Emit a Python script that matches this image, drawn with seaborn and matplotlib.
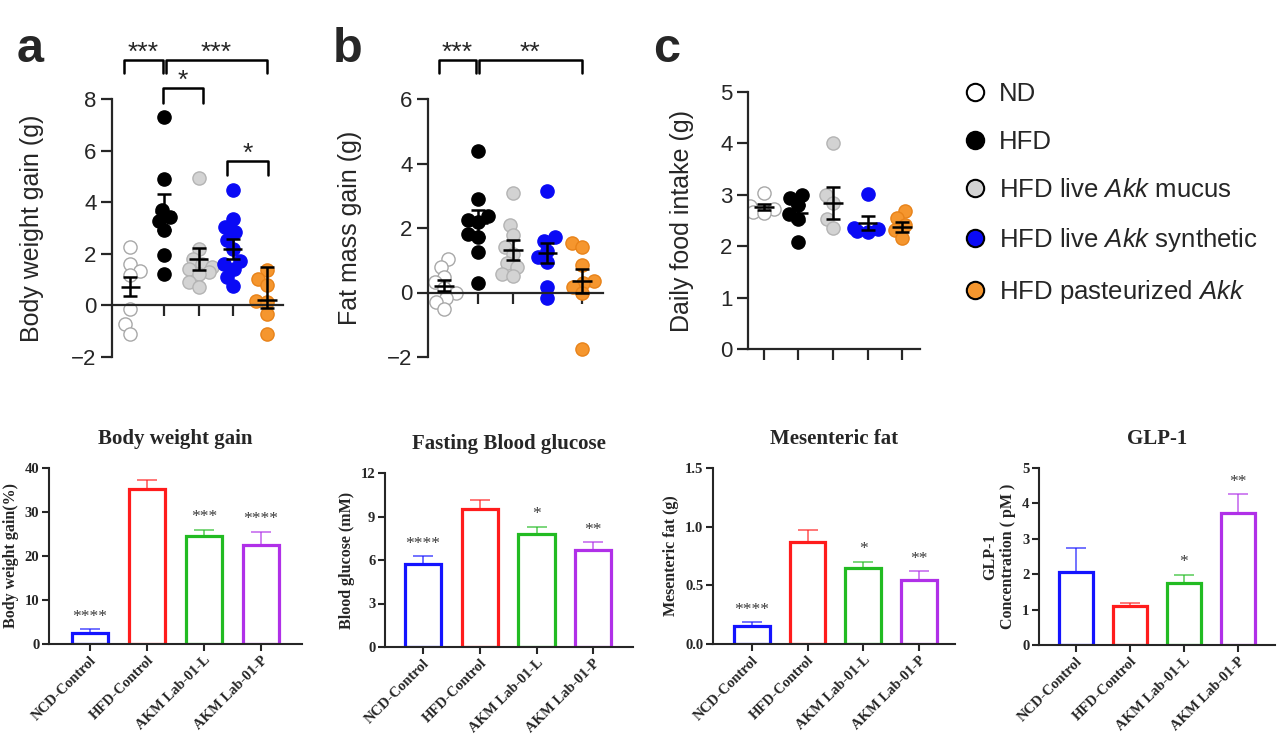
import numpy as np
import pandas as pd
import seaborn as sns
import matplotlib.pyplot as plt
from matplotlib.lines import Line2D

sns.set_theme(style='ticks')
plt.rcParams['font.family'] = ['Liberation Sans', 'DejaVu Sans']
plt.rcParams['mathtext.fontset'] = 'custom'
plt.rcParams['mathtext.rm'] = 'Liberation Sans'
plt.rcParams['mathtext.it'] = 'Liberation Sans:italic'

# ---------------- top row data (dot plots) ----------------
groups = ['ND', 'HFD', 'HFD live Akk mucus', 'HFD live Akk synthetic', 'HFD pasteurized Akk']
legend_labels = ['ND', 'HFD', 'HFD live $\\mathit{Akk}$ mucus',
                 'HFD live $\\mathit{Akk}$ synthetic', 'HFD pasteurized $\\mathit{Akk}$']
face_colors = ['white', 'black', '#d3d3d3', '#0a0af5', '#f5962e']
edge_colors = ['#a8a8a8', 'black', '#b4b4b4', '#0a0af5', '#e8831a']

# body weight gain (g)
bw_nd = [2.26, 1.61, 1.32, 1.19, -0.14, -0.73, -1.09]
bw_hfd = [7.29, 4.89, 3.71, 3.42, 3.29, 2.93, 1.97, 1.22]
bw_mucus = [4.92, 2.19, 1.80, 1.60, 1.48, 1.40, 1.30, 1.22, 0.90, 0.73]
bw_synth = [4.46, 3.36, 3.03, 2.84, 2.55, 2.20, 1.74, 1.60, 1.41, 1.09, 0.74]
bw_past = [1.37, 1.02, 0.79, 0.18, 0.12, -0.34, -1.12]
bw_mean = [0.73, 3.62, 1.80, 2.19, 0.20]
bw_lo = [0.36, 2.93, 1.37, 1.81, -0.10]
bw_hi = [1.10, 4.31, 2.23, 2.57, 1.50]

# fat mass gain (g)
fm_nd = [1.05, 0.80, 0.49, 0.33, 0.15, -0.03, -0.17, -0.29, -0.50]
fm_hfd = [4.39, 2.90, 2.37, 2.24, 2.20, 1.80, 1.73, 1.26, 0.31]
fm_mucus = [3.07, 2.09, 1.78, 1.42, 1.20, 0.90, 0.80, 0.57, 0.50]
fm_synth = [3.14, 1.71, 1.60, 1.29, 1.10, 0.95, 0.16, -0.17]
fm_past = [1.52, 1.42, 0.85, 0.35, 0.30, 0.16, -0.03, -1.76]
fm_mean = [0.21, 2.14, 1.31, 1.23, 0.36]
fm_lo = [0.04, 1.73, 1.00, 0.93, -0.02]
fm_hi = [0.38, 2.55, 1.62, 1.53, 0.74]

# daily food intake (g)
fi_nd = [3.03, 2.78, 2.72, 2.67, 2.65]
fi_hfd = [3.00, 2.94, 2.81, 2.63, 2.52, 2.08]
fi_mucus = [4.01, 3.00, 2.84, 2.52, 2.35]
fi_synth = [3.02, 2.35, 2.30, 2.28, 2.33]
fi_past = [2.69, 2.55, 2.41, 2.32, 2.16]
fi_mean = [2.76, 2.65, 2.84, 2.45, 2.37]
fi_lo = [2.70, 2.49, 2.53, 2.31, 2.27]
fi_hi = [2.82, 2.81, 3.15, 2.59, 2.47]

# ---------------- bottom row data (bar charts) ----------------
bar_groups = ['NCD-Control', 'HFD-Control', 'AKM Lab-01-L', 'AKM Lab-01-P']
bar_colors = ['#1414ff', '#ff1c1c', '#22bb22', '#b030e8']

bwp_mean = [2.5, 35.3, 24.6, 22.5]
bwp_err = [0.8, 1.9, 1.3, 3.0]
bwp_stars = ['****', '', '***', '****']

glu_mean = [5.7, 9.5, 7.8, 6.7]
glu_err = [0.55, 0.65, 0.5, 0.55]
glu_stars = ['****', '', '*', '**']

mes_mean = [0.155, 0.87, 0.645, 0.545]
mes_err = [0.03, 0.105, 0.055, 0.075]
mes_stars = ['****', '', '*', '**']

glp_mean = [2.05, 1.1, 1.75, 3.73]
glp_err = [0.68, 0.1, 0.23, 0.53]
glp_stars = ['', '', '*', '**']

W, H = 1280, 738
fig = plt.figure(figsize=(W / 100, H / 100), dpi=100)

SWARM_SIZE = 6.5   # spacing used for the swarm layout (points overlap a bit, like the original)
DOT_SIZE = 9.5     # drawn marker size


def px_axes(x0, x1, ytop, ybot):
    return fig.add_axes([x0 / W, 1 - ybot / H, (x1 - x0) / W, (ybot - ytop) / H])


def dot_panel(ax, series, mean, lo, hi, ylim, yticks, ylabel, xlim, zero_axis, lpad):
    df = pd.DataFrame({'group': np.repeat(groups, [len(s) for s in series]),
                       'value': np.concatenate(series)})
    for g, fc, ec in zip(groups, face_colors, edge_colors):
        sns.swarmplot(data=df[df['group'] == g], x='group', y='value', order=groups,
                      color=fc, edgecolor=ec, linewidth=1.0, size=SWARM_SIZE, ax=ax, zorder=2)
    xs = np.arange(len(groups))
    mean = np.array(mean)
    ax.hlines(mean, xs - 0.28, xs + 0.28, color='black', lw=1.8, zorder=3)
    ax.errorbar(xs, mean, yerr=[mean - np.array(lo), np.array(hi) - mean], fmt='none',
                ecolor='black', elinewidth=1.8, capsize=5, capthick=1.8, zorder=3)
    ax.set_xlim(*xlim)
    ax.set_ylim(*ylim)
    ax.set_yticks(yticks)
    ax.set_xticks(xs)
    ax.set_xticklabels([])
    ax.set_xlabel('')
    ax.set_ylabel(ylabel, fontsize=18, labelpad=lpad)
    for side in ['top', 'right']:
        ax.spines[side].set_visible(False)
    for side in ['left', 'bottom']:
        ax.spines[side].set_linewidth(1.6)
    if zero_axis:
        ax.spines['bottom'].set_position(('data', 0))
    ax.tick_params(axis='both', direction='out', length=8, width=1.6, labelsize=16, pad=3)
    ax.patch.set_alpha(0)


def bracket(ax, x1, x2, y, leg, text):
    ax.plot([x1, x1, x2, x2], [y - leg, y, y, y - leg], color='black', lw=1.8, clip_on=False)
    ax.text((x1 + x2) / 2, y, text, ha='center', va='baseline', fontsize=19, clip_on=False)


# panel a
ax_a = px_axes(112, 283, 99, 357)
dot_panel(ax_a, [bw_nd, bw_hfd, bw_mucus, bw_synth, bw_past], bw_mean, bw_lo, bw_hi,
          (-2, 8), [-2, 0, 2, 4, 6, 8], 'Body weight gain (g)', (-0.53, 4.47), True, 20)
bracket(ax_a, -0.18, 0.96, 9.52, 0.52, '***')
bracket(ax_a, 1.04, 4.0, 9.52, 0.52, '***')
bracket(ax_a, 0.96, 2.13, 8.43, 0.59, '*')
bracket(ax_a, 2.83, 4.03, 5.60, 0.54, '*')

# panel b
ax_b = px_axes(428, 603, 99, 357)
dot_panel(ax_b, [fm_nd, fm_hfd, fm_mucus, fm_synth, fm_past], fm_mean, fm_lo, fm_hi,
          (-2, 6), [-2, 0, 2, 4, 6], 'Fat mass gain (g)', (-0.46, 4.61), True, 18)
bracket(ax_b, -0.14, 0.93, 7.21, 0.40, '***')
bracket(ax_b, 1.01, 4.0, 7.21, 0.40, '**')

# panel c
ax_c = px_axes(748, 920, 92, 349)
dot_panel(ax_c, [fi_nd, fi_hfd, fi_mucus, fi_synth, fi_past], fi_mean, fi_lo, fi_hi,
          (0, 5), [0, 1, 2, 3, 4, 5], 'Daily food intake (g)', (-0.46, 4.52), False, 19)

for letter, xp in [('a', 17), ('b', 333), ('c', 653)]:
    fig.text(xp / W, 1 - 62 / H, letter, fontsize=35, fontweight='bold', va='baseline')

# legend
handles = [Line2D([], [], ls='none', marker='o', markersize=12.5, markerfacecolor=fc,
                  markeredgecolor='black', markeredgewidth=1.5) for fc in face_colors]
fig.legend(handles, legend_labels, loc='upper left', bbox_to_anchor=(962 / W, 1 - 82 / H),
           frameon=False, fontsize=18.5, labelspacing=0.93, handletextpad=0.45,
           handlelength=1.0, borderpad=0, borderaxespad=0)


# ---------------- bottom row ----------------
def bar_panel(ax, title, mean, err, stars, ylim, yticks, ylabel, xlim, fmt=None):
    df = pd.DataFrame({'group': bar_groups, 'value': mean})
    sns.barplot(data=df, x='group', y='value', hue='group', palette=bar_colors,
                fill=False, linewidth=2.3, width=0.64, errorbar=None, legend=False, ax=ax)
    xs = np.arange(len(bar_groups))
    for x, m, e, c in zip(xs, mean, err, bar_colors):
        ax.errorbar(x, m, yerr=[[0], [e]], fmt='none', ecolor=c, alpha=0.6,
                    elinewidth=1.4, capsize=7, capthick=1.4, zorder=0.9)
    for x, m, e, s in zip(xs, mean, err, stars):
        if s:
            ax.annotate(s, (x, m + e + 0.1 * ylim[1]), xytext=(0, -6.5),
                        textcoords='offset points', ha='center', va='baseline',
                        fontsize=12.5, color='#3a3a3a', family='Liberation Serif')
    ax.set_xlim(*xlim)
    ax.set_ylim(*ylim)
    ax.set_yticks(yticks)
    if fmt:
        ax.set_yticklabels([fmt.format(t) for t in yticks])
    ax.set_xlabel('')
    ax.set_ylabel(ylabel, fontsize=11.5, fontweight='bold', family='Liberation Serif')
    ax.set_title(title, fontsize=15, fontweight='bold', family='Liberation Serif', pad=17)
    for side in ['top', 'right']:
        ax.spines[side].set_visible(False)
    for side in ['left', 'bottom']:
        ax.spines[side].set_linewidth(1.5)
    ax.tick_params(axis='both', direction='out', length=5, width=1.5, pad=2)
    for lab in ax.get_yticklabels():
        lab.set_fontfamily('Liberation Serif')
        lab.set_fontweight('bold')
        lab.set_fontsize(10.5)
    ax.set_xticks(xs)
    ax.set_xticklabels(bar_groups, rotation=45, ha='right', rotation_mode='anchor',
                       fontsize=10.5, fontweight='bold', family='Liberation Serif')


ax1 = px_axes(49, 302, 468, 644)
bar_panel(ax1, 'Body weight gain', bwp_mean, bwp_err, bwp_stars, (0, 40), [0, 10, 20, 30, 40],
          'Body weight gain(%)', (-0.72, 3.72))
ax2 = px_axes(385, 633, 473, 647)
bar_panel(ax2, 'Fasting Blood glucose', glu_mean, glu_err, glu_stars, (0, 12), [0, 3, 6, 9, 12],
          'Blood glucose (mM)', (-0.67, 3.70))
ax3 = px_axes(713, 955, 468, 644)
bar_panel(ax3, 'Mesenteric fat', mes_mean, mes_err, mes_stars, (0, 1.5), [0, 0.5, 1.0, 1.5],
          'Mesenteric fat (g)', (-0.70, 3.65), fmt='{:.1f}')
ax4 = px_axes(1039, 1275, 468, 645)
bar_panel(ax4, 'GLP-1', glp_mean, glp_err, glp_stars, (0, 5), [0, 1, 2, 3, 4, 5],
          'GLP-1\nConcentration ( pM )', (-0.69, 3.69))

# lay the swarms out with the smaller spacing size, then freeze them and enlarge the dots
fig.canvas.draw()
for ax in [ax_a, ax_b, ax_c]:
    for coll in ax.collections:
        if 'draw' in coll.__dict__:
            del coll.draw
            coll.set_sizes([DOT_SIZE ** 2])

fig.savefig('out.png', dpi=100)
